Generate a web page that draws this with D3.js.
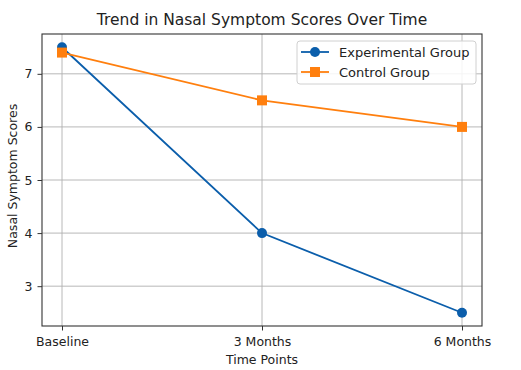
<!DOCTYPE html>
<html>
<head>
<meta charset="utf-8">
<script src="https://cdn.jsdelivr.net/npm/d3@7"></script>
<style>
  body { margin: 0; background: #fff; }
  svg { font-family: "DejaVu Sans", sans-serif; }
</style>
</head>
<body>
<svg id="chart" width="521" height="370"></svg>
<script>
// data
const timePoints = ["Baseline", "3 Months", "6 Months"];
const experimental = [7.5, 4.0, 2.5];
const control = [7.4, 6.5, 6.0];
const yTicks = [3, 4, 5, 6, 7];

const svg = d3.select("#chart");
const m = { left: 42, right: 39, top: 34, bottom: 44 };
const W = 521, H = 370;

const x = d3.scaleLinear().domain([-0.1, 2.1]).range([m.left, W - m.right]);
const y = d3.scaleLinear().domain([2.25, 7.75]).range([H - m.bottom, m.top]);

// grid
const grid = svg.append("g").attr("stroke", "#b0b0b0").attr("stroke-width", 0.9);
timePoints.forEach((t, i) => {
  grid.append("line").attr("x1", x(i)).attr("x2", x(i)).attr("y1", m.top).attr("y2", H - m.bottom);
});
yTicks.forEach(v => {
  grid.append("line").attr("x1", m.left).attr("x2", W - m.right).attr("y1", y(v)).attr("y2", y(v));
});

// axes
const xAxis = svg.append("g").attr("transform", `translate(0,${H - m.bottom})`)
  .call(d3.axisBottom(x).tickValues([0, 1, 2]).tickFormat(i => timePoints[i]).tickSize(4.5).tickPadding(4).tickSizeOuter(0));
const yAxis = svg.append("g").attr("transform", `translate(${m.left},0)`)
  .call(d3.axisLeft(y).tickValues(yTicks).tickFormat(d3.format("d")).tickSize(4.5).tickPadding(5).tickSizeOuter(0));
[xAxis, yAxis].forEach(a => {
  a.select(".domain").remove();
  a.selectAll("text").attr("font-size", 12.5).attr("fill", "#222").attr("font-family", "DejaVu Sans");
  a.selectAll("line").attr("stroke", "#333");
});
xAxis.selectAll("text").attr("dy", "0.95em");

svg.append("rect").attr("x", m.left).attr("y", m.top)
  .attr("width", W - m.left - m.right).attr("height", H - m.top - m.bottom)
  .attr("fill", "none").attr("stroke", "#333").attr("stroke-width", 1.1);

// lines
const line = d3.line().x((d, i) => x(i)).y(d => y(d));
const blue = "#0b5eab", orange = "#ff7f0e";

svg.append("path").datum(experimental).attr("d", line)
  .attr("fill", "none").attr("stroke", blue).attr("stroke-width", 1.8);
svg.selectAll(".pt-exp").data(experimental).join("circle")
  .attr("cx", (d, i) => x(i)).attr("cy", d => y(d)).attr("r", 5).attr("fill", blue);

svg.append("path").datum(control).attr("d", line)
  .attr("fill", "none").attr("stroke", orange).attr("stroke-width", 1.8);
svg.selectAll(".pt-ctl").data(control).join("rect")
  .attr("x", (d, i) => x(i) - 5).attr("y", d => y(d) - 5)
  .attr("width", 10).attr("height", 10).attr("fill", orange);

// title + labels
svg.append("text").attr("x", 262).attr("y", 25).attr("text-anchor", "middle")
  .attr("font-size", 15.5).attr("fill", "#222").text("Trend in Nasal Symptom Scores Over Time");
svg.append("text").attr("x", 262).attr("y", 364).attr("text-anchor", "middle")
  .attr("font-size", 12.5).attr("fill", "#222").text("Time Points");
svg.append("text").attr("transform", `translate(17,${(m.top + H - m.bottom) / 2 - 4}) rotate(-90)`)
  .attr("text-anchor", "middle").attr("font-size", 12.5).attr("fill", "#222").text("Nasal Symptom Scores");

// legend
const lg = svg.append("g");
lg.append("rect").attr("x", 297).attr("y", 41).attr("width", 179).attr("height", 43)
  .attr("rx", 3).attr("fill", "#fff").attr("fill-opacity", 0.85).attr("stroke", "#d0d0d0");
const items = [
  { name: "Experimental Group", color: blue, shape: "circle" },
  { name: "Control Group", color: orange, shape: "square" }
];
items.forEach((it, i) => {
  const cy = 52 + i * 20;
  lg.append("line").attr("x1", 301).attr("x2", 329).attr("y1", cy).attr("y2", cy)
    .attr("stroke", it.color).attr("stroke-width", 1.8);
  if (it.shape === "circle") {
    lg.append("circle").attr("cx", 315).attr("cy", cy).attr("r", 5).attr("fill", it.color);
  } else {
    lg.append("rect").attr("x", 310).attr("y", cy - 5).attr("width", 10).attr("height", 10).attr("fill", it.color);
  }
  lg.append("text").attr("x", 339).attr("y", cy + 4.5).attr("font-size", 13).attr("fill", "#222").text(it.name);
});
</script>
</body>
</html>
